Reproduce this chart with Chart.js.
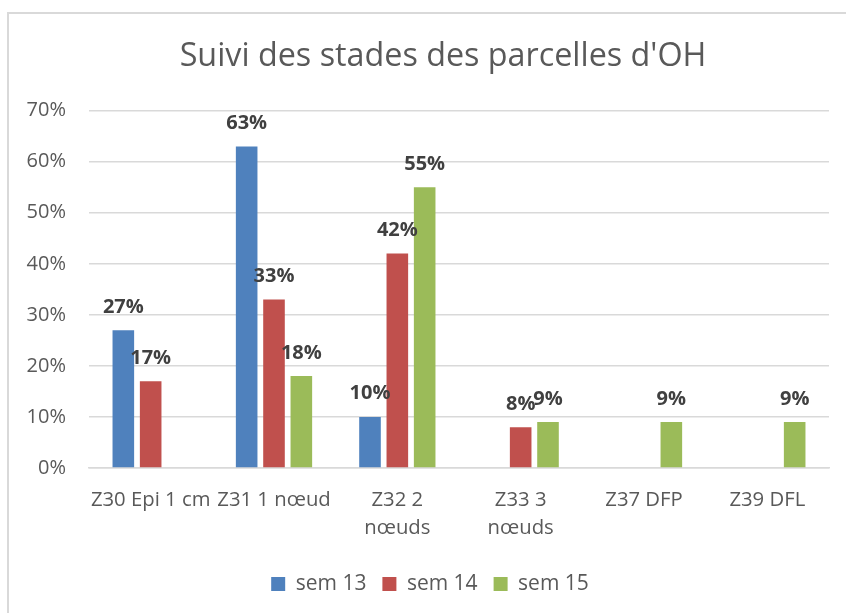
<!DOCTYPE html>
<html>
<head>
<meta charset="utf-8">
<script src="https://cdn.jsdelivr.net/npm/chart.js@4/dist/chart.umd.min.js"></script>
<style>
  html, body { margin: 0; padding: 0; background: #ffffff; }
  #wrap { position: relative; width: 846px; height: 613px; overflow: hidden; }
  #frame { position: absolute; left: 7px; top: 12px; width: 900px; height: 700px;
           border-left: 2px solid #d9d9d9; border-top: 2px solid #d9d9d9; }
  canvas { position: absolute; left: 0; top: 0; }
</style>
</head>
<body>
<div id="wrap">
  <div id="frame"></div>
  <canvas id="c" width="846" height="613"></canvas>
</div>
<script>
const titleText = "Suivi des stades des parcelles d'OH";
const categories = ["Z30 Epi 1 cm", "Z31 1 nœud", ["Z32 2", "nœuds"], ["Z33 3", "nœuds"], "Z37 DFP", "Z39 DFL"];
const seriesNames = ["sem 13", "sem 14", "sem 15"];
const sem13 = [0.27, 0.63, 0.10, null, null, null];
const sem14 = [0.17, 0.33, 0.42, 0.08, null, null];
const sem15 = [null, 0.18, 0.55, 0.09, 0.09, 0.09];
const yTicks = [0, 0.1, 0.2, 0.3, 0.4, 0.5, 0.6, 0.7];
const colors = ["#4f81bd", "#c0504d", "#9bbb59"];

const FONT = "'Open Sans', sans-serif";

const valueLabels = {
  id: 'valueLabels',
  afterDatasetsDraw(chart) {
    const ctx = chart.ctx;
    ctx.save();
    ctx.font = "bold 20px " + FONT;
    ctx.fillStyle = "#404040";
    ctx.textAlign = "center";
    ctx.textBaseline = "alphabetic";
    chart.data.datasets.forEach((ds, i) => {
      const meta = chart.getDatasetMeta(i);
      meta.data.forEach((el, j) => {
        const v = ds.data[j];
        if (v === null || v === undefined) return;
        ctx.fillText(Math.round(v * 100) + "%", el.x, el.y - 17.5);
      });
    });
    ctx.restore();
  }
};

// Nudge title and legend boxes horizontally to match the original's centring
const boxNudge = {
  id: 'boxNudge',
  afterLayout(chart) {
    const t = chart.titleBlock;
    if (t) { t.left -= 16; t.right -= 16; }
    const l = chart.legend;
    if (l) { l.left += 15.5; l.right += 15.5; l.top += 2; l.bottom += 2; }
  }
};

const allSeries = [sem13, sem14, sem15];
new Chart(document.getElementById('c'), {
  type: 'bar',
  data: {
    labels: categories,
    datasets: allSeries.map((d, i) => ({
      label: seriesNames[i],
      data: d,
      backgroundColor: colors[i],
      borderWidth: 0,
      categoryPercentage: 0.665,
      barPercentage: 0.79
    }))
  },
  options: {
    responsive: false,
    animation: false,
    devicePixelRatio: 1,
    layout: { padding: { left: 0, right: 17, top: 0, bottom: 10.5 } },
    plugins: {
      title: {
        display: true,
        fullSize: false,
        text: titleText,
        color: "#595959",
        font: { family: FONT, size: 32.3, weight: 'normal', lineHeight: 1.2 },
        padding: { top: 37.6, bottom: 34.3 }
      },
      legend: {
        position: 'bottom',
        labels: {
          boxWidth: 14,
          boxHeight: 14,
          padding: 16,
          color: "#595959",
          font: { family: FONT, size: 21 }
        }
      },
      tooltip: { enabled: false }
    },
    scales: {
      x: {
        grid: { display: false, drawTicks: false },
        border: { display: true, color: "#d9d9d9", width: 1.5 },
        ticks: {
          autoSkip: false,
          maxRotation: 0,
          minRotation: 0,
          padding: 18,
          color: "#595959",
          font: { family: FONT, size: 20.3, lineHeight: 1.4 }
        },
        afterFit(scale) { scale.height = 87.5; }
      },
      y: {
        min: 0,
        max: 0.7,
        grid: { color: "#d9d9d9", lineWidth: 1.5, drawTicks: false },
        border: { display: false },
        afterBuildTicks(scale) { scale.ticks = yTicks.map(v => ({ value: v })); },
        ticks: {
          padding: 23,
          color: "#595959",
          font: { family: FONT, size: 20 },
          callback: (v) => Math.round(v * 100) + "%"
        },
        afterFit(scale) { scale.width = 89; }
      }
    }
  },
  plugins: [valueLabels, boxNudge]
});
</script>
</body>
</html>
